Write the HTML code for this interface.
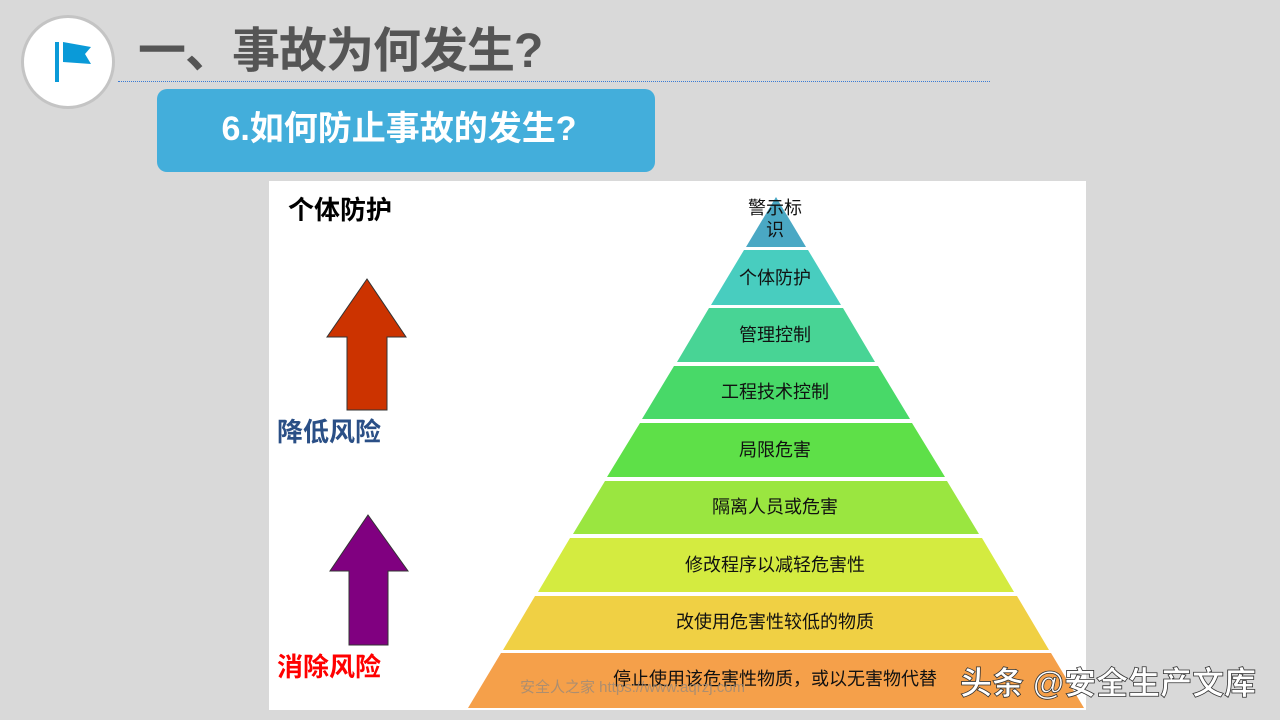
<!DOCTYPE html>
<html><head><meta charset="utf-8"><style>
*{margin:0;padding:0}
body{width:1280px;height:720px;background:#d9d9d9;position:relative;overflow:hidden;font-family:"Liberation Sans","Noto Sans CJK SC",sans-serif}
.a{position:absolute}
</style></head><body>
<div class="a" style="left:21px;top:15px;width:88px;height:88px;border:3px solid #c4c4c4;border-radius:50%;background:#fff"></div>
<svg class="a" style="left:0;top:0" width="130" height="110"><rect x="55" y="42" width="4" height="40" fill="#0a9ad8"/><path d="M63 42 L91 47 L85 54 L91 64 L63 62 Z" fill="#0a9ad8"/></svg>
<div class="a" style="left:138px;top:20px;font-size:48px;font-weight:bold;color:#555;letter-spacing:-1px;line-height:64px">一、事故为何发生?</div>
<div class="a" style="left:118px;top:81px;width:872px;height:0;border-top:1px dotted #3a7bd5"></div>
<div class="a" style="left:157px;top:89px;width:498px;height:83px;background:#43aedb;border-radius:10px"></div>
<div class="a" style="left:150px;top:89px;width:498px;height:83px;line-height:80px;text-align:center;color:#fff;font-size:34px;font-weight:bold">6.如何防止事故的发生?</div>
<div class="a" style="left:269px;top:181px;width:817px;height:529px;background:#fff"></div>
<svg class="a" style="left:0;top:0" width="1280" height="720">
<polygon points="776,197 806,247 746,247" fill="#4aa8c4"/>
<polygon points="744,250 808,250 841,305 711,305" fill="#48cdbf"/>
<polygon points="709,308 843,308 875,362 677,362" fill="#48d495"/>
<polygon points="674,366 878,366 910,419 642,419" fill="#48d968"/>
<polygon points="640,423 912,423 945,477 607,477" fill="#5ee048"/>
<polygon points="605,481 947,481 979,534 573,534" fill="#9ae640"/>
<polygon points="570,538 982,538 1014,592 538,592" fill="#d4eb40"/>
<polygon points="535,596 1017,596 1049,650 503,650" fill="#f0d044"/>
<polygon points="501,653 1051,653 1084,708 468,708" fill="#f5a04a"/>
<polygon points="367,279 406,337 387,337 387,410 347,410 347,337 327,337" fill="#cc3300" stroke="#333" stroke-width="1"/>
<polygon points="368,515 408,571 388,571 388,645 349,645 349,571 330,571" fill="#800080" stroke="#333" stroke-width="1"/>
<g font-family="Liberation Sans,Noto Sans CJK SC,sans-serif" font-size="18" fill="#111" text-anchor="middle">
<text x="775" y="214">警示标</text><text x="775" y="236">识</text>
<text x="775" y="284">个体防护</text>
<text x="775" y="341">管理控制</text>
<text x="775" y="398">工程技术控制</text>
<text x="775" y="456">局限危害</text>
<text x="775" y="513">隔离人员或危害</text>
<text x="775" y="571">修改程序以减轻危害性</text>
<text x="775" y="628">改使用危害性较低的物质</text>
<text x="775" y="685">停止使用该危害性物质，或以无害物代替</text>
</g>
<g font-family="Liberation Sans,Noto Sans CJK SC,sans-serif" font-weight="bold" font-size="26">
<text x="288" y="219" fill="#000">个体防护</text>
<text x="277" y="441" fill="#2a4f86">降低风险</text>
<text x="277" y="676" fill="#ff0000">消除风险</text>
</g>
<text x="520" y="692" font-family="Liberation Sans,Noto Sans CJK SC,sans-serif" font-size="15" fill="#9a8a7a" opacity="0.8">安全人之家 https://www.aqrzj.com</text>
<text x="960" y="694" font-family="Liberation Sans,Noto Sans CJK SC,sans-serif" font-weight="bold" font-size="32" fill="#fff" stroke="#333" stroke-width="0.8">头条 @安全生产文库</text>
</svg>
</body></html>
